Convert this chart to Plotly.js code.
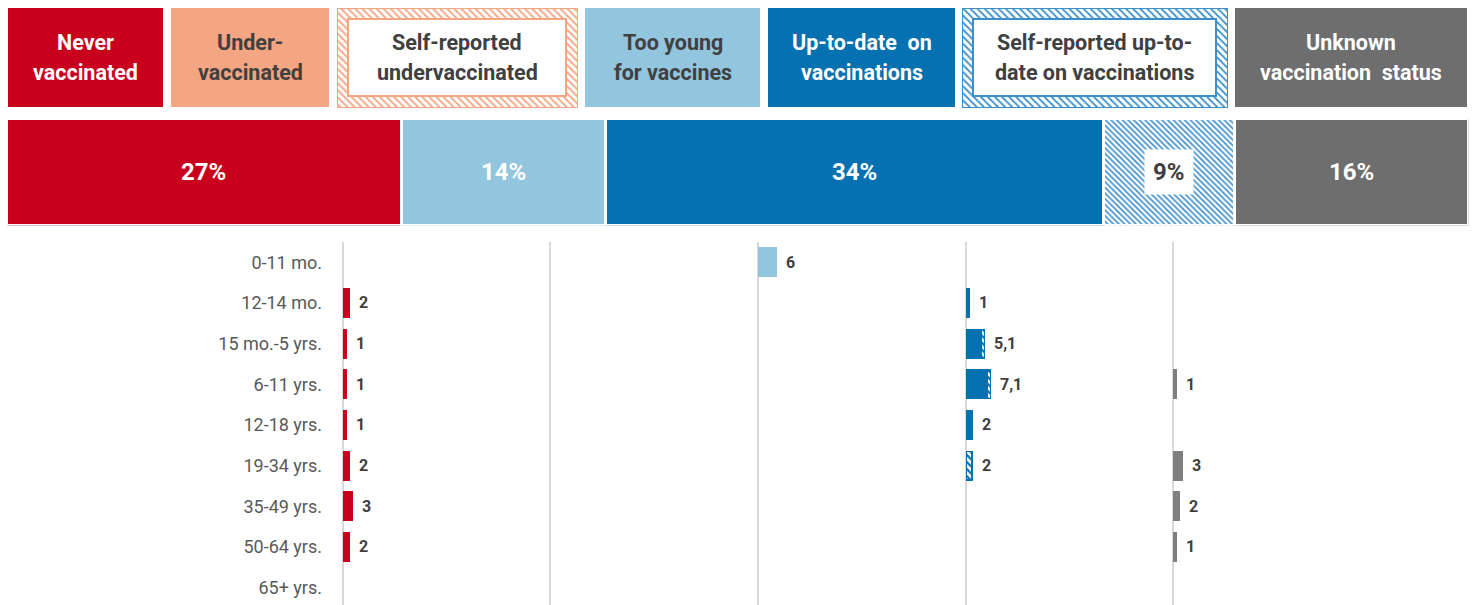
<!DOCTYPE html>
<html><head><meta charset="utf-8">
<script src="https://cdn.plot.ly/plotly-3.0.1.min.js"></script>
<style>html,body{margin:0;padding:0;background:#fff;} #chart{width:1475px;height:605px;}</style>
</head><body><div id="chart"></div>
<script>
// ---------------- data ----------------
const statusLabels = ['Never<br>vaccinated','Under-<br>vaccinated','Self-reported<br>undervaccinated','Too young<br>for vaccines','Up-to-date  on<br>vaccinations','Self-reported up-to-<br>date on vaccinations','Unknown<br>vaccination  status'];
const shareLabels = ['Never vaccinated','Too young for vaccines','Up-to-date on vaccinations','Self-reported up-to-date on vaccinations','Unknown vaccination status'];
const shareValues = [27, 14, 34, 9, 16];
const ageGroups = ['0-11 mo.','12-14 mo.','15 mo.-5 yrs.','6-11 yrs.','12-18 yrs.','19-34 yrs.','35-49 yrs.','50-64 yrs.','65+ yrs.'];
const neverVacc     = [0, 2, 1, 1, 1, 2, 3, 2, 0];
const underVacc     = [0, 0, 0, 0, 0, 0, 0, 0, 0];
const tooYoung      = [6, 0, 0, 0, 0, 0, 0, 0, 0];
const upToDate      = [0, 1, 5, 7, 2, 0, 0, 0, 0];
const selfUpToDate  = [0, 0, 1, 1, 0, 2, 0, 0, 0];
const unknownStatus = [0, 0, 0, 1, 0, 3, 2, 1, 0];

// ---------------- styles / layout ----------------
const W = 1475, H = 605;
const px = x => x / W;
const py = y => 1 - y / H;
const RED = '#C8001E', SALMON = '#F4A582', LBLUE = '#92C5DE', BLUE = '#0571B0', GRAY = '#6E6E6E', DARK = '#404040';
const HATCHBLUE = '#3D8FCB';
const headFont = 'Roboto, Arial, sans-serif';
const roboto = 'Roboto, Arial, sans-serif';

const headerBoxes = [[8,163],[171,329],[337,577],[585,760],[768,955],[962,1227],[1235,1467]];
const headerTop = 8, headerBottom = 107, hatchBand = 11, lineGap = 30;
const headerFill  = [RED, SALMON, '#FFFFFF', LBLUE, BLUE, '#FFFFFF', GRAY];
const headerHatch = ['', '', '\\', '', '', '\\', ''];
const headerLine  = [RED, SALMON, SALMON, LBLUE, BLUE, HATCHBLUE, GRAY];
const headerTextColor = ['#FFFFFF', DARK, DARK, DARK, '#FFFFFF', DARK, '#FFFFFF'];

const shareColors = [RED, LBLUE, BLUE, '#FFFFFF', GRAY];
const shareHatch  = ['', '', '', '\\', ''];
const shareTextColor = ['#FFFFFF','#FFFFFF','#FFFFFF',DARK,'#FFFFFF'];

const colStarts = [343, 550, 758, 966, 1173];
const colWidth = 207.5;
const colRange = [0, 68];

const traces = [];
const annotations = [];
const shapes = [];

// header boxes (legend) on a pixel axis, one trace per box
headerBoxes.forEach((b, i) => {
  const hatched = !!headerHatch[i];
  traces.push({
    type: 'bar', xaxis: 'x8', yaxis: 'y8',
    x: [(b[0] + b[1]) / 2], width: [b[1] - b[0]], base: [headerTop], y: [headerBottom - headerTop],
    marker: hatched
      ? { color: '#FFFFFF', line: { color: headerLine[i], width: 1 },
          pattern: { shape: headerHatch[i], fgcolor: headerLine[i], bgcolor: '#FFFFFF', size: 5, solidity: 0.35 } }
      : { color: headerFill[i], line: { width: 0 } },
    hoverinfo: 'skip', showlegend: false
  });
  if (hatched) {
    shapes.push({ type: 'rect', xref: 'paper', yref: 'paper', layer: 'above',
      x0: px(b[0] + hatchBand), x1: px(b[1] - hatchBand), y0: py(headerBottom - hatchBand), y1: py(headerTop + hatchBand),
      fillcolor: '#FFFFFF', line: { color: headerLine[i], width: 2 } });
  }
  const lines = statusLabels[i].split('<br>');
  const mid = (headerTop + headerBottom) / 2;
  lines.forEach((t, k) => {
    annotations.push({ xref: 'paper', yref: 'paper', x: px((b[0] + b[1]) / 2),
      y: py(mid + (k - (lines.length - 1) / 2) * lineGap),
      text: t, showarrow: false, xanchor: 'center', yanchor: 'middle',
      font: { family: headFont, size: 21.5, color: headerTextColor[i], weight: 'bold' } });
  });
});

// overall share bar
let cum = 0;
shareValues.forEach((v, i) => {
  traces.push({
    type: 'bar', orientation: 'h', xaxis: 'x2', yaxis: 'y2', name: shareLabels[i],
    y: ['all'], x: [v], width: 1,
    marker: { color: shareColors[i], line: { color: '#FFFFFF', width: 3 },
              pattern: shareHatch[i] ? { shape: shareHatch[i], fgcolor: HATCHBLUE, bgcolor: '#FFFFFF', size: 4, solidity: 0.4 } : undefined },
    hoverinfo: 'skip'
  });
  annotations.push({ xref: 'x2', yref: 'y2', x: cum + v / 2, y: 'all', text: v + '%', showarrow: false,
    bgcolor: shareHatch[i] ? '#FFFFFF' : 'rgba(0,0,0,0)', borderpad: 8,
    font: { family: headFont, size: 24, color: shareTextColor[i], weight: 'bold' } });
  cum += v;
});

// age-group columns
const nz = arr => arr.map(v => v ? v : null);
const columns = [
  { series: [{ vals: neverVacc, color: RED }] },
  { series: [{ vals: underVacc, color: SALMON }] },
  { series: [{ vals: tooYoung, color: LBLUE }] },
  { series: [{ vals: upToDate, color: BLUE }, { vals: selfUpToDate, color: BLUE, hatch: '\\' }] },
  { series: [{ vals: unknownStatus, color: '#7F7F7F' }] }
];
const layout = {
  width: W, height: H, margin: { l: 0, r: 0, t: 0, b: 0 },
  paper_bgcolor: '#FFFFFF', plot_bgcolor: 'rgba(0,0,0,0)',
  barmode: 'stack', showlegend: false,
  xaxis2: { domain: [px(6.5), px(1468.5)], range: [0, 100], visible: false, fixedrange: true, anchor: 'y2' },
  yaxis2: { domain: [py(225.5), py(118.5)], range: [-0.5, 0.5], type: 'category', visible: false, fixedrange: true, anchor: 'x2' },
  xaxis8: { domain: [0, 1], range: [0, W], visible: false, fixedrange: true, anchor: 'y8' },
  yaxis8: { domain: [0, 1], range: [H, 0], visible: false, fixedrange: true, anchor: 'x8' },
  yaxis3: { domain: [0, py(242)], type: 'category', categoryorder: 'array', categoryarray: ageGroups,
            range: [8.43, -0.5], anchor: 'x3', showgrid: false, zeroline: false, showline: false, ticks: '',
            ticklabelstandoff: 20, tickfont: { family: roboto, size: 18, color: '#595959' }, fixedrange: true },
  shapes: shapes, annotations: annotations
};
columns.forEach((col, c) => {
  const ax = 'x' + (c + 3);
  layout['xaxis' + (c + 3)] = { domain: [px(colStarts[c]), px(colStarts[c] + colWidth)], range: colRange,
    anchor: 'y3', showticklabels: false, showgrid: false, zeroline: true, zerolinecolor: '#D9D9D9', zerolinewidth: 1.5,
    showline: false, fixedrange: true };
  col.series.forEach(s => {
    traces.push({ type: 'bar', orientation: 'h', xaxis: ax, yaxis: 'y3', y: ageGroups, x: nz(s.vals), width: 0.7,
      marker: { color: s.hatch ? '#FFFFFF' : s.color, line: { color: s.color, width: 1.5 },
                pattern: s.hatch ? { shape: s.hatch, fgcolor: s.color, bgcolor: '#FFFFFF', size: 5, solidity: 0.45 } : undefined },
      hoverinfo: 'skip' });
  });
  ageGroups.forEach((g, r) => {
    const parts = col.series.map(s => s.vals[r]);
    const total = parts.reduce((a, b) => a + b, 0);
    if (!total) return;
    const text = parts.filter(v => v).join(',');
    annotations.push({ xref: ax, yref: 'y3', x: total, y: g, text: text, showarrow: false, xanchor: 'left', xshift: 8,
      font: { family: roboto, size: 16, color: DARK, weight: 'bold' } });
  });
});

Plotly.newPlot('chart', traces, layout, { displayModeBar: false, staticPlot: true });
</script></body></html>
